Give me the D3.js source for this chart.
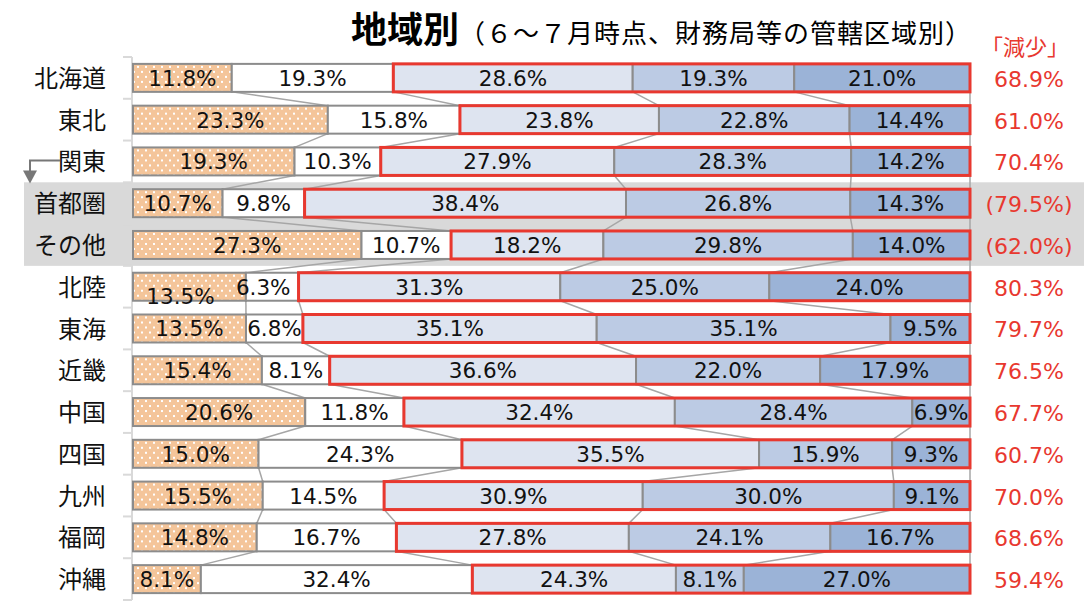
<!DOCTYPE html>
<html>
<head>
<meta charset="utf-8">
<script src="https://cdn.jsdelivr.net/npm/d3@7"></script>
<style>
 body { margin: 0; background: #fff; }
 svg text { font-family: "Noto Sans CJK JP", "Noto Sans", sans-serif; }
 svg text.num { font-family: "DejaVu Sans", "Noto Sans", sans-serif; }
</style>
</head>
<body>
<div class="chart"></div>
<script>
// regions (top to bottom)
var regions = ["北海道", "東北", "関東", "首都圏", "その他", "北陸", "東海", "近畿", "中国", "四国", "九州", "福岡", "沖縄"];

// five answer categories, share of firms (%)
var s1 = [11.8, 23.3, 19.3, 10.7, 27.3, 13.5, 13.5, 15.4, 20.6, 15.0, 15.5, 14.8, 8.1];
var s2 = [19.3, 15.8, 10.3, 9.8, 10.7, 6.3, 6.8, 8.1, 11.8, 24.3, 14.5, 16.7, 32.4];
var s3 = [28.6, 23.8, 27.9, 38.4, 18.2, 31.3, 35.1, 36.6, 32.4, 35.5, 30.9, 27.8, 24.3];
var s4 = [19.3, 22.8, 28.3, 26.8, 29.8, 25.0, 35.1, 22.0, 28.4, 15.9, 30.0, 24.1, 8.1];
var s5 = [21.0, 14.4, 14.2, 14.3, 14.0, 24.0, 9.5, 17.9, 6.9, 9.3, 9.1, 16.7, 27.0];

// 「減少」 totals shown on the right
var decrease = ["68.9%", "61.0%", "70.4%", "(79.5%)", "(62.0%)", "80.3%", "79.7%", "76.5%", "67.7%", "60.7%", "70.0%", "68.6%", "59.4%"];

var subRegions = ["首都圏", "その他"];

var w = 1084;
var h = 612;
var svg = d3.select(".chart").append("svg").attr("width", w).attr("height", h);

var defs = svg.append("defs");
var pat = defs.append("pattern").attr("id", "dots").attr("patternUnits", "userSpaceOnUse")
  .attr("width", 8).attr("height", 10);
pat.append("rect").attr("width", 8).attr("height", 10).attr("fill", "#f4c59a");
pat.append("rect").attr("x", 1).attr("y", 2).attr("width", 2).attr("height", 2).attr("fill", "#fff");
pat.append("rect").attr("x", 5).attr("y", 7).attr("width", 2).attr("height", 2).attr("fill", "#fff");

var fills = ["url(#dots)", "#ffffff", "#dee4f0", "#bccbe4", "#9bb3d7"];
var series = [s1, s2, s3, s4, s5];

var x = d3.scaleLinear().domain([0, 100]).range([133, 970]);
var y = d3.scaleBand().domain(regions).range([57, 600]).paddingInner(0.33).paddingOuter(0.165);
var step = y.step();

// stacked data (100% stacked)
var rows = regions.map(function(r, i) {
  var vals = series.map(function(s) { return s[i]; });
  var total = d3.sum(vals);
  var acc = 0;
  var segs = vals.map(function(v, k) {
    var seg = { k: k, v: v, x0: acc / total * 100 };
    acc += v;
    seg.x1 = acc / total * 100;
    return seg;
  });
  return { region: r, segs: segs, dec: decrease[i] };
});

// gray highlight for 首都圏 / その他
var bandTop = y(subRegions[0]) - (step - y.bandwidth()) / 2;
svg.append("rect").attr("x", 24).attr("y", bandTop).attr("width", w - 24).attr("height", step * 2)
  .attr("fill", "#d9d9d9");

// category axis
var axisG = svg.append("g");
axisG.append("line").attr("x1", 132).attr("x2", 132).attr("y1", 57).attr("y2", 600)
  .attr("stroke", "#d9d9d9").attr("stroke-width", 2);
d3.range(regions.length + 1).forEach(function(i) {
  var yy = 57 + i * step;
  axisG.append("line").attr("x1", 123).attr("x2", 132).attr("y1", yy).attr("y2", yy)
    .attr("stroke", "#d9d9d9").attr("stroke-width", 2);
});

// series lines between bars
var lines = svg.append("g");
for (var i = 0; i < rows.length - 1; i++) {
  for (var k = 0; k < 5; k++) {
    lines.append("line")
      .attr("x1", x(rows[i].segs[k].x1)).attr("y1", y(rows[i].region) + y.bandwidth())
      .attr("x2", x(rows[i + 1].segs[k].x1)).attr("y2", y(rows[i + 1].region))
      .attr("stroke", "#a6a6a6").attr("stroke-width", 1.5);
  }
}

var bars = svg.selectAll(".row").data(rows).enter().append("g").attr("class", "row")
  .attr("transform", function(d) { return "translate(0," + y(d.region) + ")"; });

bars.selectAll("rect.seg").data(function(d) { return d.segs; }).enter().append("rect")
  .attr("class", "seg")
  .attr("x", function(d) { return x(d.x0); })
  .attr("width", function(d) { return x(d.x1) - x(d.x0); })
  .attr("height", y.bandwidth())
  .attr("fill", function(d) { return fills[d.k]; })
  .attr("stroke", "#8c8c8c").attr("stroke-width", 2);

// red frame round the "decrease" categories
bars.append("rect")
  .attr("x", function(d) { return x(d.segs[2].x0); })
  .attr("width", function(d) { return x(d.segs[4].x1) - x(d.segs[2].x0); })
  .attr("height", y.bandwidth())
  .attr("fill", "none").attr("stroke", "#e8382f").attr("stroke-width", 3);

// label nudges (moved by hand in the original)
var nudge = { "北陸-0": [-9, 9], "北陸-1": [-9, 0] };

bars.selectAll("text.lab").data(function(d) {
    return d.segs.map(function(s) { s.region = d.region; return s; });
  }).enter().append("text")
  .attr("class", "lab num")
  .attr("x", function(d) {
    var n = nudge[d.region + "-" + d.k];
    return (x(d.x0) + x(d.x1)) / 2 + (n ? n[0] : 0);
  })
  .attr("y", function(d) {
    var n = nudge[d.region + "-" + d.k];
    return y.bandwidth() / 2 + 8 + (n ? n[1] : 0);
  })
  .attr("text-anchor", "middle").attr("font-size", 21.5).attr("fill", "#111")
  .text(function(d) { return d.v.toFixed(1) + "%"; });

// region names
bars.append("text").attr("x", 106).attr("y", y.bandwidth() / 2 + 9)
  .attr("text-anchor", "end").attr("font-size", 24).attr("fill", "#111")
  .text(function(d) { return d.region; });

// 「減少」 values
bars.append("text").attr("class", "num").attr("x", 1029).attr("y", y.bandwidth() / 2 + 9)
  .attr("text-anchor", "middle").attr("font-size", 22).attr("fill", "#e8382f")
  .text(function(d) { return d.dec; });

svg.append("text").attr("x", 1025).attr("y", 55).attr("text-anchor", "middle")
  .attr("font-size", 22).attr("fill", "#e8382f").text("「減少」");

// arrow from 関東 to its sub regions
var ay = y("関東") + y.bandwidth() / 2 - 1;
svg.append("path").attr("d", "M60," + ay + " H30 V" + (ay + 12))
  .attr("fill", "none").attr("stroke", "#777").attr("stroke-width", 2);
svg.append("path").attr("d", "M23," + (ay + 10) + " L37," + (ay + 10) + " L30," + (ay + 23) + " Z")
  .attr("fill", "#777");

// title
var title = svg.append("text").attr("x", 351).attr("y", 43);
title.append("tspan").attr("font-size", 36).attr("font-weight", "bold").text("地域別");
title.append("tspan").attr("font-size", 26).attr("letter-spacing", 1).text("（６～７月時点、財務局等の管轄区域別）");
</script>
</body>
</html>
